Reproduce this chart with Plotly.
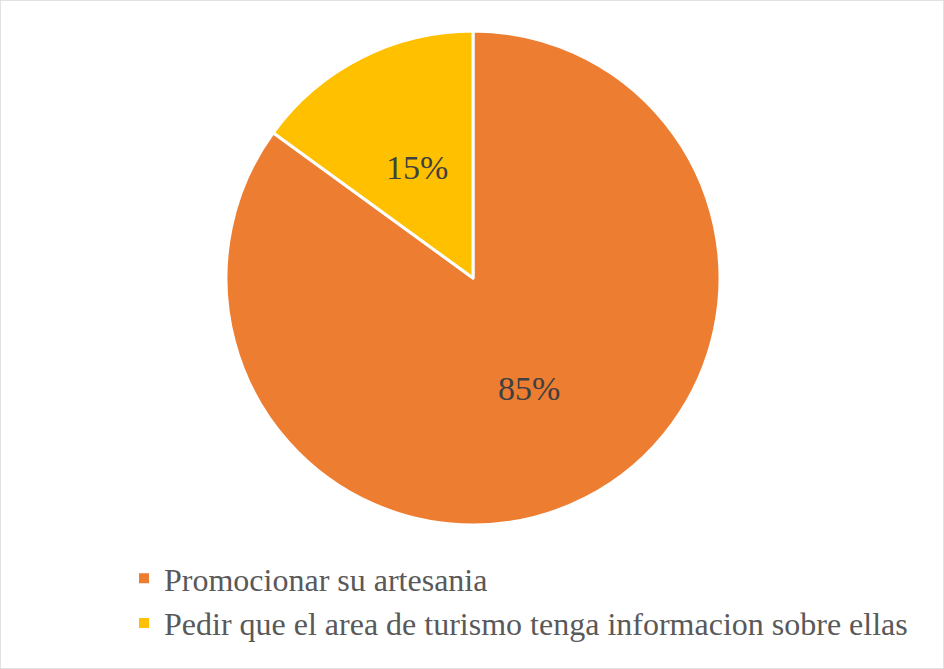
import math
import plotly.graph_objects as go

labels = ["Promocionar su artesania", "Pedir que el area de turismo tenga informacion sobre ellas"]
values = [85, 15]
colors = ["#ED7D31", "#FFC000"]

W, H = 944, 669
cx, cy, r = 473, 278, 247
SERIF = "Liberation Serif, Times New Roman, Times, serif"

fig = go.Figure(go.Pie(
    labels=labels,
    values=values,
    sort=False,
    direction="clockwise",
    rotation=0,
    marker=dict(colors=colors, line=dict(color="white", width=3)),
    textinfo="none",
    domain=dict(x=[(cx - r) / W, (cx + r) / W], y=[(H - cy - r) / H, (H - cy + r) / H]),
    hoverinfo="label+percent",
))

# data labels placed at half radius along each slice bisector (computed from values)
total = sum(values)
annotations = []
start = 0.0
for v in values:
    mid = (start + v / 2) / total * 2 * math.pi  # clockwise from 12 o'clock
    start += v
    px = cx + 0.5 * r * math.sin(mid)
    py = cy - 0.5 * r * math.cos(mid)
    annotations.append(dict(
        x=px / W, y=1 - py / H, xref="paper", yref="paper",
        text=f"{round(100 * v / total)}%", showarrow=False,
        font=dict(family=SERIF, size=34, color="#404040"),
        xanchor="center", yanchor="middle",
    ))

fig.update_layout(
    width=W, height=H,
    margin=dict(l=0, r=0, t=0, b=0),
    paper_bgcolor="white",
    font=dict(family=SERIF, color="#595959"),
    showlegend=True,
    legend=dict(
        x=124 / W, y=1 - 551 / H, xanchor="left", yanchor="top",
        orientation="v",
        font=dict(family=SERIF, size=32, color="#595959"),
        itemsizing="constant",
        traceorder="normal",
    ),
    annotations=annotations,
    shapes=[dict(type="rect", xref="paper", yref="paper", x0=0, y0=0, x1=1, y1=1,
                 line=dict(color="#D9D9D9", width=1.5))],
)

fig.write_html("out.html", config={"displayModeBar": False},
               post_script="document.body.style.margin='0';document.body.style.padding='0';")
